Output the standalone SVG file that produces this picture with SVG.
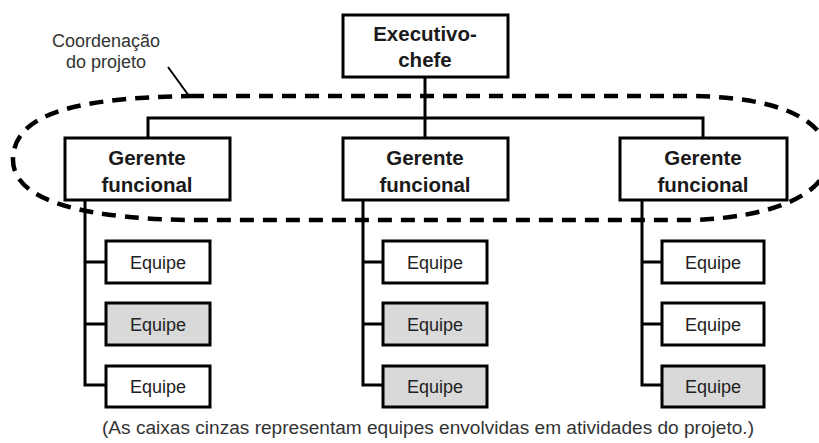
<svg xmlns="http://www.w3.org/2000/svg" width="819" height="443" viewBox="0 0 819 443">
  <style>
    .box { fill: #ffffff; stroke: #000000; stroke-width: 3; }
    .grey { fill: #d9d9d9; }
    .line { fill: none; stroke: #000000; stroke-width: 3; }
    .head { font-family: "Liberation Sans", Arial, sans-serif; font-weight: bold; font-size: 20.5px; fill: #1a1a1a; text-anchor: middle; }
    .team { font-family: "Liberation Sans", Arial, sans-serif; font-size: 18px; fill: #222222; text-anchor: middle; }
    .note { font-family: "Liberation Sans", Arial, sans-serif; font-size: 18px; fill: #333333; }
  </style>
  <rect width="819" height="443" fill="#ffffff"/>

  <!-- project coordination boundary -->
  <g id="coordination">
    <path d="M 190,96 H 690 C 780,97 828,120 828,158 C 828,195 770,218 690,220 H 190 C 100,219 13,205 13,160 C 13,112 80,98 190,96 Z"
          fill="none" stroke="#000000" stroke-width="4.5" stroke-dasharray="14 9"/>
    <line x1="168" y1="67" x2="189" y2="96" stroke="#000000" stroke-width="2"/>
    <text class="note" x="106" y="47" text-anchor="middle">Coordenação</text>
    <text class="note" x="106" y="68" text-anchor="middle">do projeto</text>
  </g>

  <!-- reporting lines -->
  <g id="connectors">
    <path class="line" d="M 425,77 V 138"/>
    <path class="line" d="M 148,138 V 118 H 703 V 138"/>
    <path class="line" d="M 85,200 V 385 H 106 M 85,262 H 106 M 85,324 H 106"/>
    <path class="line" d="M 363,200 V 385 H 383 M 363,262 H 383 M 363,324 H 383"/>
    <path class="line" d="M 642,200 V 385 H 662 M 642,262 H 662 M 642,324 H 662"/>
  </g>

  <g id="ceo">
    <rect class="box" x="343" y="15" width="165" height="62"/>
    <text class="head" x="425" y="41">Executivo-</text>
    <text class="head" x="425" y="67">chefe</text>
  </g>

  <g id="manager-1">
    <rect class="box" x="65" y="138" width="165" height="62"/>
    <text class="head" x="147" y="165">Gerente</text>
    <text class="head" x="147" y="192">funcional</text>
  </g>
  <g id="manager-2">
    <rect class="box" x="343" y="138" width="165" height="62"/>
    <text class="head" x="425" y="165">Gerente</text>
    <text class="head" x="425" y="192">funcional</text>
  </g>
  <g id="manager-3">
    <rect class="box" x="620" y="138" width="167" height="62"/>
    <text class="head" x="703" y="165">Gerente</text>
    <text class="head" x="703" y="192">funcional</text>
  </g>

  <g id="team-1-1">
    <rect class="box" x="106" y="241" width="104" height="42"/>
    <text class="team" x="158" y="269">Equipe</text>
  </g>
  <g id="team-1-2">
    <rect class="box grey" x="106" y="303" width="104" height="42"/>
    <text class="team" x="158" y="331">Equipe</text>
  </g>
  <g id="team-1-3">
    <rect class="box" x="106" y="366" width="104" height="41"/>
    <text class="team" x="158" y="393">Equipe</text>
  </g>

  <g id="team-2-1">
    <rect class="box" x="383" y="241" width="104" height="42"/>
    <text class="team" x="435" y="269">Equipe</text>
  </g>
  <g id="team-2-2">
    <rect class="box grey" x="383" y="303" width="104" height="42"/>
    <text class="team" x="435" y="331">Equipe</text>
  </g>
  <g id="team-2-3">
    <rect class="box grey" x="383" y="366" width="104" height="41"/>
    <text class="team" x="435" y="393">Equipe</text>
  </g>

  <g id="team-3-1">
    <rect class="box" x="662" y="241" width="102" height="42"/>
    <text class="team" x="713" y="269">Equipe</text>
  </g>
  <g id="team-3-2">
    <rect class="box" x="662" y="303" width="102" height="42"/>
    <text class="team" x="713" y="331">Equipe</text>
  </g>
  <g id="team-3-3">
    <rect class="box grey" x="662" y="366" width="102" height="41"/>
    <text class="team" x="713" y="393">Equipe</text>
  </g>

  <text class="note" x="102" y="434" font-size="17" textLength="652" lengthAdjust="spacingAndGlyphs">(As caixas cinzas representam equipes envolvidas em atividades do projeto.)</text>
</svg>
